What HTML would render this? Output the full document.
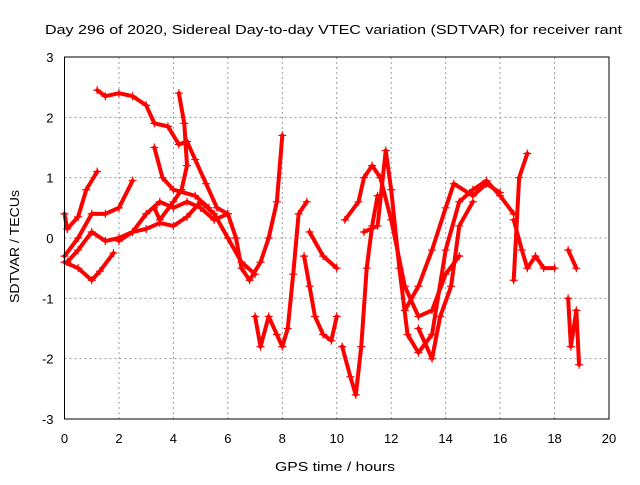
<!DOCTYPE html>
<html><head><meta charset="utf-8"><style>
body{margin:0;background:#fff}
text{font-family:"Liberation Sans",sans-serif;font-size:13px;fill:#000}
</style></head><body>
<svg id="c" width="640" height="480" xmlns="http://www.w3.org/2000/svg">
<text x="45" y="34" font-size="16" textLength="577" lengthAdjust="spacingAndGlyphs">Day 296 of 2020, Sidereal Day-to-day VTEC variation (SDTVAR) for receiver rant</text>
<g id="grid"></g><g id="series"></g><g id="axes"></g>
<text x="275" y="471" font-size="16" textLength="120" lengthAdjust="spacingAndGlyphs">GPS time / hours</text>
<text transform="translate(19,303) rotate(-90)" font-size="16" textLength="113" lengthAdjust="spacingAndGlyphs">SDTVAR / TECUs</text>
</svg>
<script>
const xTicks=[0,2,4,6,8,10,12,14,16,18,20];
const yTicks=[-3,-2,-1,0,1,2,3];
const trackA=[[1.2,2.45],[1.5,2.35],[2,2.4],[2.5,2.35],[3,2.2],[3.3,1.9],[3.8,1.85],[4.2,1.55],[4.5,1.6],[4.8,1.3],[5.2,0.9],[5.6,0.5],[6,0.4],[6.3,0.0],[6.5,-0.5],[6.8,-0.7],[7.2,-0.4],[7.5,0.0],[7.8,0.6],[8,1.7]];
const trackB=[[0,-0.4],[0.5,-0.5],[1,-0.7],[1.3,-0.55],[1.8,-0.25]];
const trackC=[[0,0.4],[0.1,0.15],[0.5,0.35],[0.8,0.8],[1.2,1.1]];
const trackD=[[0,-0.3],[0.5,0.0],[1,0.4],[1.5,0.4],[2,0.5],[2.5,0.95]];
const trackE=[[0.1,-0.4],[0.5,-0.2],[1,0.1],[1.5,-0.05],[2,0.0],[2.5,0.1],[3,0.4],[3.5,0.6],[4,0.5],[4.5,0.6],[5,0.5],[5.5,0.3],[6,0.4]];
const trackF=[[2,-0.05],[2.5,0.1],[3,0.15],[3.5,0.25],[4,0.2],[4.5,0.35],[5,0.6],[5.5,0.4],[6,0.0],[6.5,-0.4],[7,-0.6]];
const trackG=[[4.2,2.4],[4.4,1.9],[4.5,1.2],[4.3,0.8],[4,0.6],[3.5,0.3],[3.3,0.5]];
const trackG2=[[3.3,1.5],[3.6,1.0],[4,0.8],[4.8,0.7],[5.3,0.5]];
const trackH=[[7,-1.3],[7.2,-1.8],[7.5,-1.3],[7.8,-1.6],[8,-1.8],[8.2,-1.5],[8.4,-0.6],[8.6,0.4],[8.9,0.6]];
const trackI=[[8.8,-0.3],[9,-0.8],[9.2,-1.3],[9.5,-1.6],[9.8,-1.7],[10,-1.3]];
const trackJ=[[9,0.1],[9.5,-0.3],[10,-0.5]];
const trackK=[[10.2,-1.8],[10.5,-2.3],[10.7,-2.6],[10.9,-1.8],[11.1,-0.5],[11.3,0.2],[11.5,0.7]];
const trackL=[[10.3,0.3],[10.8,0.6],[11,1.0],[11.3,1.2],[11.6,1.0],[12,0.3],[12.5,-0.8],[13,-1.3],[13.5,-1.2],[14,-0.6],[14.5,-0.3]];
const trackM=[[11,0.1],[11.5,0.2],[11.8,1.45],[12,0.8],[12.3,-0.5],[12.6,-1.6],[13,-1.9],[13.5,-1.6],[14,-0.2],[14.5,0.6],[15,0.8],[15.5,0.95],[16,0.7],[16.5,0.4]];
const trackN=[[12.5,-1.2],[13,-0.8],[13.5,-0.2],[14,0.5],[14.3,0.9],[15,0.7],[15.5,0.9],[16,0.75]];
const trackO=[[13,-1.5],[13.5,-2.0],[13.8,-1.3],[14.2,-0.8],[14.5,0.2],[15,0.6]];
const trackP=[[16.5,-0.7],[16.7,1.0],[17,1.4]];
const trackQ=[[16.5,0.3],[16.8,-0.2],[17,-0.5],[17.3,-0.3],[17.6,-0.5],[18,-0.5]];
const trackR=[[18.5,-0.2],[18.8,-0.5]];
const trackS=[[18.5,-1.0],[18.6,-1.8],[18.8,-1.2],[18.9,-2.1]];
const tracks=[trackA,trackB,trackC,trackD,trackE,trackF,trackG,trackG2,trackH,trackI,trackJ,trackK,trackL,trackM,trackN,trackO,trackP,trackQ,trackR,trackS];
const X0=64.5,X1=609,Y0=419,Y1=57;
const sx=v=>X0+(v-0)/20*(X1-X0);
const sy=v=>Y0-(v+3)/6*(Y0-Y1);
const NS='http://www.w3.org/2000/svg';
const mk=(t,a,p)=>{const e=document.createElementNS(NS,t);for(const k in a)e.setAttribute(k,a[k]);p.appendChild(e);return e;};
const grid=document.getElementById('grid'),axes=document.getElementById('axes'),ser=document.getElementById('series');
xTicks.forEach(t=>{
 if(t>0&&t<20){const g=mk('line',{x1:sx(t),x2:sx(t),y1:Y1,y2:Y0,stroke:'#999','stroke-dasharray':'2,3'},grid);
 
 }
 const l=mk('text',{x:sx(t),y:Y0+24,'text-anchor':'middle','font-size':14},axes);l.textContent=t;
 
 
});
yTicks.forEach(t=>{
 if(t>-3&&t<3){const g=mk('line',{x1:X0,x2:X1,y1:sy(t),y2:sy(t),stroke:'#999','stroke-dasharray':'2,3'},grid);
 
 }
 const l=mk('text',{x:X0-11,y:sy(t)+5,'text-anchor':'end','font-size':14},axes);l.textContent=t;
 
 
});
const fr=mk('rect',{x:X0,y:Y1,width:X1-X0,height:Y0-Y1,fill:'none',stroke:'#000'},axes);


tracks.forEach(tr=>{
 const pl=mk('polyline',{points:tr.map(p=>sx(p[0])+','+sy(p[1])).join(' '),fill:'none',stroke:'#f00','stroke-width':4,'stroke-linejoin':'round','stroke-linecap':'round'},ser);
 
 
 tr.forEach(p=>{
  const m=mk('path',{d:`M${sx(p[0])-4},${sy(p[1])}h8M${sx(p[0])},${sy(p[1])-4}v8`,stroke:'#f00','stroke-width':1.2},ser);
  
  
 });
});
</script>
</body></html>
